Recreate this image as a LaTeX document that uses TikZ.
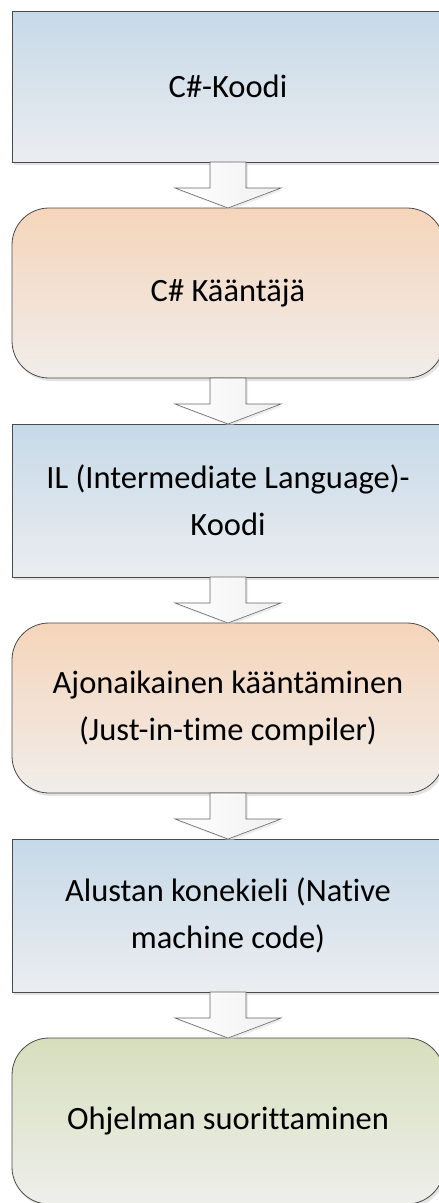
\documentclass[tikz,border=0pt]{standalone}
\usepackage{fontspec}
\setmainfont{Carlito}[Ligatures=NoCommon]
\usetikzlibrary{positioning}
\usetikzlibrary{shadows}

\definecolor{codetop}{HTML}{C6D9E8}
\definecolor{codebot}{HTML}{EBEDF0}
\definecolor{steptop}{HTML}{F5D5BA}
\definecolor{stepbot}{HTML}{F1EDEA}
\definecolor{runtop}{HTML}{D7DEBC}
\definecolor{runbot}{HTML}{EEEFEB}
\definecolor{edgegray}{HTML}{4A4A4A}

% block arrow from the bottom of #1 to the top of #2
\newcommand{\flowarrow}[2]{%
  \draw[flow arrow] ([xshift=-18pt]#1.south) -- ([xshift=-18pt,yshift=20pt]#2.north)
    -- ([xshift=-53pt,yshift=20pt]#2.north) -- (#2.north)
    -- ([xshift=53pt,yshift=20pt]#2.north) -- ([xshift=18pt,yshift=20pt]#2.north)
    -- ([xshift=18pt]#1.south) -- cycle;}

\begin{document}
\begin{tikzpicture}[node distance=46pt,font=\fontsize{32.5}{47}\selectfont,
    box/.style={draw=edgegray,line width=0.8pt,minimum width=432pt,align=center,
                inner sep=0pt,outer sep=0pt,
                drop shadow={shadow xshift=2pt,shadow yshift=-3pt,fill=black!22}},
    code node/.style={box,top color=codetop,bottom color=codebot,minimum height=151pt},
    step node/.style={box,rounded corners=37pt,top color=steptop,bottom color=stepbot,minimum height=170pt},
    run node/.style={box,rounded corners=37pt,top color=runtop,bottom color=runbot,minimum height=166pt},
    flow arrow/.style={draw=edgegray!85,line width=0.6pt,left color=white,right color=gray!12,
                drop shadow={shadow xshift=2pt,shadow yshift=-2pt,fill=black!15}}]

  \clip (0,0) rectangle (439pt,-1203pt);

  \node[code node] (1) at (228pt,-86.5pt) {C\#-Koodi};
  \node[step node] (2) [below=of 1] {C\# Kääntäjä};
  \node[code node,minimum height=153pt] (3) [below=of 2] {IL (Intermediate Language)-\\Koodi};
  \node[step node] (4) [below=of 3] {Ajonaikainen kääntäminen\\(Just-in-time compiler)};
  \node[code node,minimum height=153pt] (5) [below=of 4] {Alustan konekieli (Native\\machine code)};
  \node[run node] (6) [below=of 5] {Ohjelman suorittaminen};

  \flowarrow{1}{2}
  \flowarrow{2}{3}
  \flowarrow{3}{4}
  \flowarrow{4}{5}
  \flowarrow{5}{6}
\end{tikzpicture}
\end{document}
